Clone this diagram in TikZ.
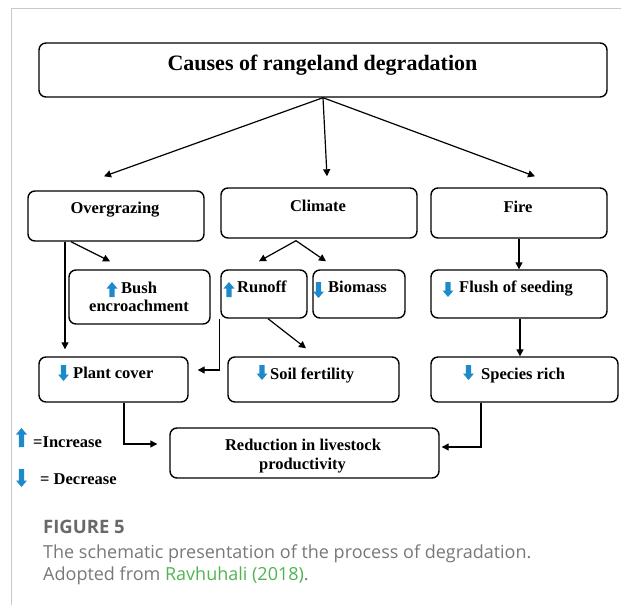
\documentclass[tikz,border=0pt]{standalone}
\usepackage{fontspec}
\setmainfont{Liberation Serif}
\newfontfamily\capfont{Open Sans}
\usetikzlibrary{arrows.meta,calc}
\definecolor{iconblue}{RGB}{30,138,202}
\definecolor{capgray}{RGB}{120,120,120}
\definecolor{figgray}{RGB}{105,105,105}
\definecolor{capgreen}{RGB}{80,180,80}
\definecolor{framegray}{RGB}{200,200,200}
\tikzset{
  box/.style={draw=black, line width=1.4pt, rounded corners=7pt, inner sep=0pt},
  arr/.style={draw=black, line width=1.2pt, -{Triangle[length=7pt,width=7pt]}},
  lbl/.style={inner sep=0pt, font=\bfseries\fontsize{16.5}{19}\selectfont},
  captext/.style={inner sep=0pt, anchor=base west, font=\capfont\fontsize{18}{22}\selectfont, text=capgray},
  pics/upicon/.style={code={\fill[iconblue] (0,0) -- (5.5,6.5) -- (2.6,6.5) -- (2.6,#1) -- (-2.6,#1) -- (-2.6,6.5) -- (-5.5,6.5) -- cycle;}},
  pics/downicon/.style={code={\fill[iconblue] (-2.6,0) -- (2.6,0) -- (2.6,{#1-6.5}) -- (5.5,{#1-6.5}) -- (0,#1) -- (-5.5,{#1-6.5}) -- (-2.6,{#1-6.5}) -- cycle;}}
}
\begin{document}
\begin{tikzpicture}[x=1pt,y=-1pt]
\useasboundingbox (0,0) rectangle (621,605);
% frame
\draw[framegray, line width=1pt] (11,605) -- (11,8) -- (621,8);
% boxes
\node[box, minimum width=568pt, minimum height=54pt] (main) at (323,70) {};
\node[box, minimum width=176pt, minimum height=50pt] (over) at (116,216) {};
\node[box, minimum width=196pt, minimum height=50pt] (clim) at (319,213) {};
\node[box, minimum width=176pt, minimum height=50pt] (fire) at (519,213) {};
\node[box, minimum width=141pt, minimum height=54pt] (bush) at (139.5,297) {};
\node[box, minimum width=86pt, minimum height=48pt] (runoff) at (264,294) {};
\node[box, minimum width=92pt, minimum height=48pt] (bio) at (359,294) {};
\node[box, minimum width=176pt, minimum height=48pt] (flush) at (519,294) {};
\node[box, minimum width=149pt, minimum height=45pt] (plant) at (113.5,379.5) {};
\node[box, minimum width=171pt, minimum height=45pt] (soil) at (313.5,379.5) {};
\node[box, minimum width=187pt, minimum height=45pt] (species) at (524.5,379.5) {};
\node[box, minimum width=269pt, minimum height=50pt] (red) at (304.5,453) {};
% texts
\node[lbl, anchor=base, font=\bfseries\fontsize{22}{24}\selectfont] (tmain) at (322.5,70) {Causes of rangeland degradation};
\node[lbl, anchor=base] (tover) at (115,213.5) {Overgrazing};
\node[lbl, anchor=base] (tclim) at (318,211.5) {Climate};
\node[lbl, anchor=base] (tfire) at (518,212) {Fire};
\node[lbl, anchor=base west] (tbush1) at (121,293) {Bush};
\node[lbl, anchor=base] (tbush2) at (139,311.5) {encroachment};
\node[lbl, anchor=base west] (trun) at (237,292.5) {Runoff};
\node[lbl, anchor=base west] (tbio) at (328,292.5) {Biomass};
\node[lbl, anchor=base west] (tflush) at (459,292.5) {Flush of seeding};
\node[lbl, anchor=base west] (tplant) at (73,378) {Plant cover};
\node[lbl, anchor=base west] (tsoil) at (270,379) {Soil fertility};
\node[lbl, anchor=base west] (tspec) at (481,379) {Species rich};
\node[lbl, anchor=base] (tred1) at (303,450) {Reduction in livestock};
\node[lbl, anchor=base] (tred2) at (302.5,469) {productivity};
\node[lbl, anchor=base west] (tinc) at (33,447.5) {=Increase};
\node[lbl, anchor=base west] (tdec) at (40,484) {= Decrease};
% icons
\pic at (112,282) {upicon=15};
\pic at (229,282) {upicon=15};
\pic at (318.5,282) {downicon=16};
\pic at (448,282) {downicon=15};
\pic at (63.5,365) {downicon=16};
\pic at (262,365) {downicon=15};
\pic at (468.5,365) {downicon=15};
\pic at (21.5,428) {upicon=19};
\pic at (21.5,469) {downicon=18};
% connectors
\draw[arr] (main.south) -- ($(over.north)+(-12,-14)$);
\draw[arr] (main.south) -- ($(clim.north)+(8,-11)$);
\draw[arr] (main.south) -- ($(fire.north)+(16,-11)$);
\draw[arr] ($(over.south)+(-45,0)$) -- ($(bush.north)+(-29.5,-8)$);
\draw[arr] ($(over.south)+(-51,0)$) -- ($(plant.north)+(-48.5,-7)$);
\draw[arr] ($(clim.south)+(-23,2)$) -- ($(runoff.north)+(-5,-8)$);
\draw[arr] ($(clim.south)+(-23,2)$) -- ($(bio.north)+(-33,-8)$);
\draw[arr] (fire.south) -- (flush.north);
\draw[arr] ($(flush.south)+(1,0)$) -- ($(flush.south |- species.north)+(1,0)$);
\draw[arr] ($(runoff.south)+(4,0)$) -- ($(soil.north)+(-7.5,-8)$);
\draw[arr] ($(runoff.south west)+(-1,0)$) |- ($(plant.east)+(9,-9.5)$);
\draw[arr] ($(plant.south)+(10.5,0)$) |- ($(red.west)+(-12,-9)$);
\draw[arr] ($(species.south)+(-43.5,0)$) |- ($(red.east)+(2,-6)$);
% caption
\node[captext, font=\capfont\bfseries\fontsize{18.5}{22}\selectfont, text=figgray] (fig) at (43,533) {FIGURE 5};
\node[captext] (cap1) at (43,558) {The schematic presentation of the process of degradation.};
\node[captext] (cap2) at (43,580) {Adopted from \textcolor{capgreen}{Ravhuhali (2018)}.};
\end{tikzpicture}
\end{document}
